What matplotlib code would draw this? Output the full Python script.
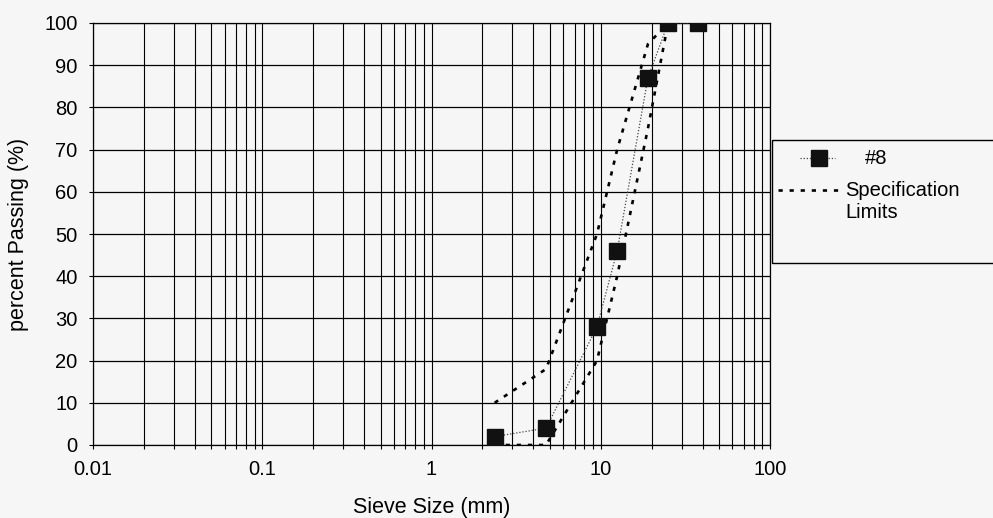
import matplotlib.pyplot as plt
from matplotlib.lines import Line2D
from matplotlib.patches import Rectangle

plt.rcParams['font.family'] = ['Liberation Sans', 'DejaVu Sans']

# gradation test, aggregate #8
sieve_mm = [2.36, 4.75, 9.5, 12.5, 19, 25, 37.5]
passing = [2, 4, 28, 46, 87, 100, 100]

# specification band
spec_mm = [2.36, 4.75, 9.5, 12.5, 19, 25]
spec_upper = [10, 18, 50, 70, 95, 100]
spec_lower = [0, 0, 20, 40, 75, 100]

x_ticks = [0.01, 0.1, 1, 10, 100]
x_ticklabels = ['0.01', '0.1', '1', '10', '100']
y_ticks = list(range(0, 101, 10))

bg = '#f6f6f6'
fig = plt.figure(figsize=(9.93, 5.18), dpi=100, facecolor=bg)
ax = fig.add_axes([93/993, 73/518, 677/993, 422/518], facecolor=bg)

spec_style = dict(color='black', lw=1.9, linestyle=(0, (1.6, 2.6)),
                  dash_capstyle='butt')
ax.plot(spec_mm, spec_upper, **spec_style, zorder=3)
ax.plot(spec_mm, spec_lower, **spec_style, zorder=3)
ax.plot(sieve_mm, passing, color='#444444', lw=0.9, linestyle=(0, (1, 1.5)),
        marker='s', markersize=11, markerfacecolor='#111111',
        markeredgecolor='#111111', zorder=4)

ax.set_xscale('log')
ax.set_xlim(0.01, 100)
ax.set_ylim(0, 100)
ax.set_xticks(x_ticks)
ax.set_xticklabels(x_ticklabels)
ax.set_yticks(y_ticks)
ax.grid(True, which='both', axis='x', color='black', lw=0.8)
ax.grid(True, which='major', axis='y', color='black', lw=0.9)
ax.tick_params(axis='both', which='both', direction='out', length=3,
               width=0.8, labelsize=14.5, colors='black')
ax.tick_params(axis='y', pad=8)
ax.tick_params(axis='x', pad=8)
ax.tick_params(axis='x', which='minor', labelbottom=False)
for s in ax.spines.values():
    s.set_color('black')
    s.set_linewidth(0.9)

ax.set_xlabel('Sieve Size (mm)', fontsize=15.5, labelpad=13)
ax.set_ylabel('percent Passing (%)', fontsize=15.5, labelpad=11)

# legend box, drawn in pixel coordinates of the figure
lg = fig.add_axes([0, 0, 1, 1], facecolor='none')
lg.set_xlim(0, 993)
lg.set_ylim(518, 0)
lg.axis('off')
lg.add_patch(Rectangle((772, 140), 240, 123, fill=False, edgecolor='black',
                       lw=1.0, clip_on=False))
lg.add_line(Line2D([800, 835], [158, 158], color='#444444', lw=0.9,
                   linestyle=(0, (1, 1.5))))
lg.add_line(Line2D([819], [158], marker='s', markersize=11,
                   markerfacecolor='#111111', markeredgecolor='#111111'))
lg.text(865, 158, '#8', fontsize=14.5, va='center', ha='left')
lg.add_line(Line2D([778, 843], [190, 190], **spec_style))
lg.text(845, 190, 'Specification', fontsize=14.5, va='center', ha='left')
lg.text(845, 212, 'Limits', fontsize=14.5, va='center', ha='left')

fig.savefig('out.png', dpi=100, facecolor=bg)
